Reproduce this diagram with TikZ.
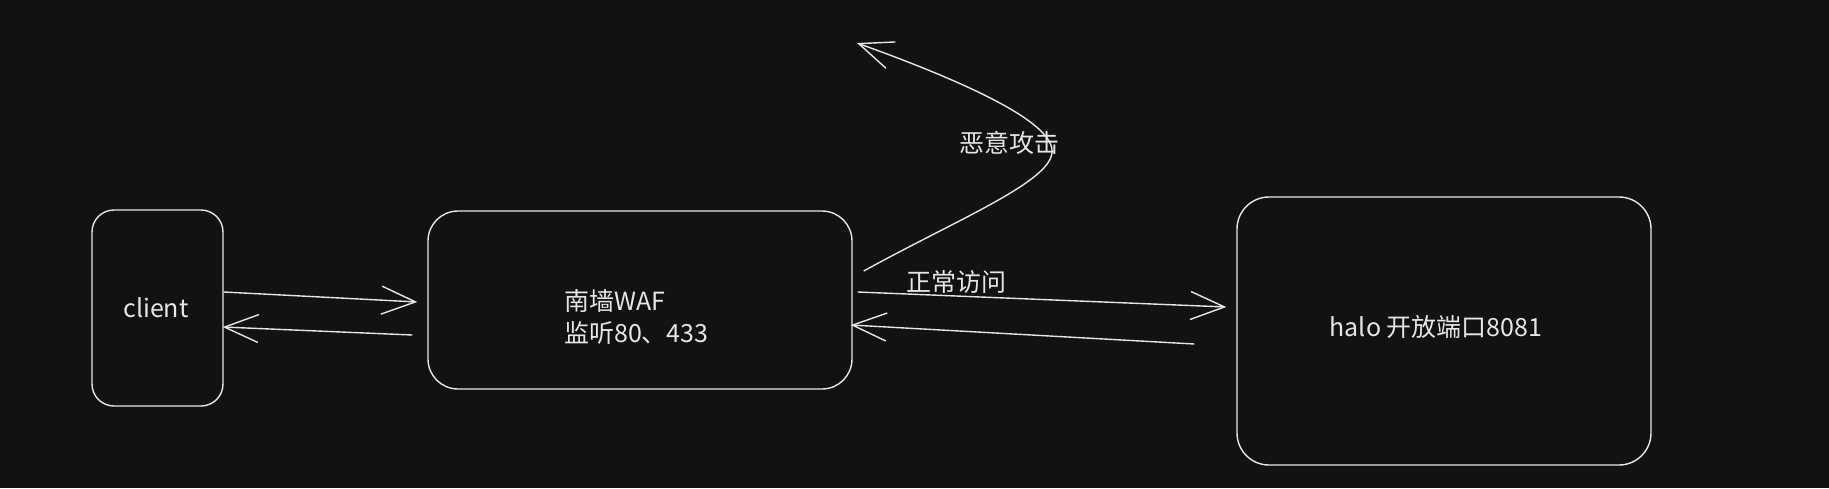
\documentclass[tikz,border=0pt]{standalone}
\usepackage{fontspec}
\setmainfont{Noto Sans CJK SC}
\usetikzlibrary{arrows.meta,calc}
\definecolor{bg}{HTML}{121212}
\definecolor{ink}{HTML}{E6E6E6}
\tikzset{
  box/.style={draw=ink, line width=1.4pt, fill=bg, rounded corners=#1, inner sep=0pt},
  lbl/.style={text=ink, font=\fontsize{25}{32}\selectfont, inner sep=0pt, align=left},
  conn/.style={draw=ink, line width=1.4pt, -{Straight Barb[length=34pt,width=28pt,line width=1.4pt]}},
}
\begin{document}
\begin{tikzpicture}[x=1pt,y=-1pt]
\fill[bg] (0,0) rectangle (1829,488);
\useasboundingbox (0,0) rectangle (1829,488);

\node[box=22pt, minimum width=131pt, minimum height=196pt] (client) at (157.5,308) {};
\node[lbl] (clientlbl) at (156,308) {client};

\node[box=30pt, minimum width=424pt, minimum height=178pt] (waf) at (640,300) {};
\node[lbl, anchor=west] (waflbl) at (564,317) {南墙WAF\\监听80、433};

\node[box=32pt, minimum width=414pt, minimum height=268pt] (halo) at (1444,331) {};
\node[lbl] (halolbl) at (1436,327) {halo 开放端口8081};

\node[lbl] (normal) at (956,282) {正常访问};
\node[lbl] (attack) at (1009,143) {恶意攻击};

\coordinate (out) at (857,43);

\draw[conn] ($(client.east)+(0,-16)$) -- ($(waf.west)+(-10,2)$);
\draw[conn] ($(waf.west)+(-15,35)$) -- ($(client.east)+(-1,19)$);
\draw[conn] ($(waf.east)+(5,-8)$) -- ($(halo.west)+(-10,-24)$);
\draw[conn] ($(halo.west)+(-42,13)$) -- ($(waf.east)+(-2,25)$);
\draw[conn] ($(waf.east)+(11,-29)$) .. controls (960,218) and (1055,180) .. (1052,150)
   .. controls (1050,120) and (960,80) .. (out);
\end{tikzpicture}
\end{document}
